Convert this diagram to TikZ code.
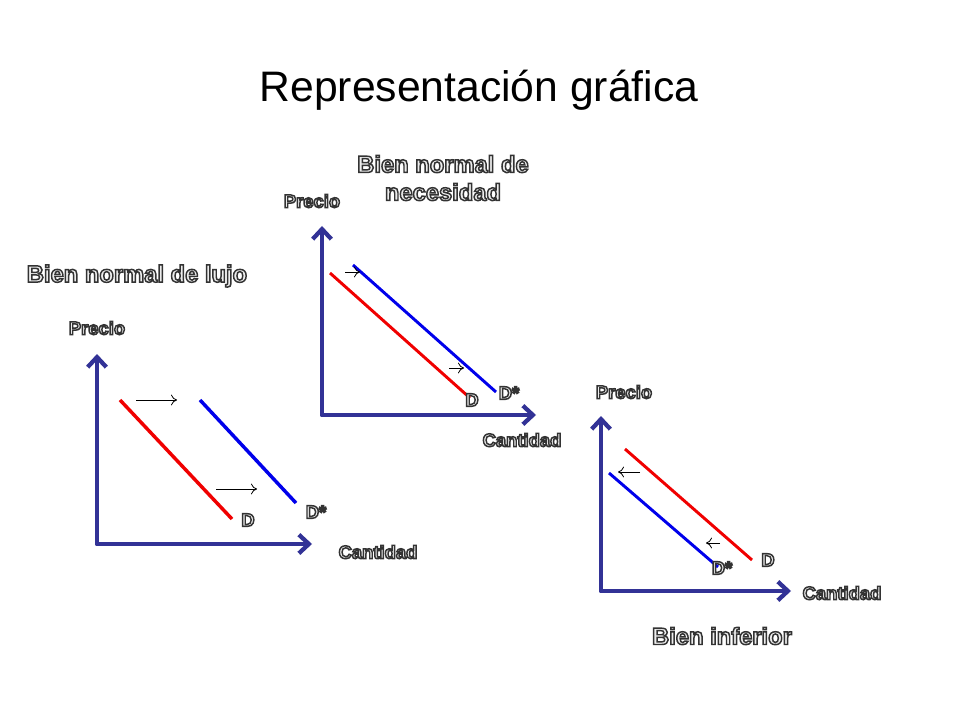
\documentclass[tikz,border=0pt]{standalone}
\usepackage{fontspec}
\setmainfont{Liberation Sans}
\usetikzlibrary{arrows.meta}
\definecolor{axisc}{RGB}{50,50,150}
\definecolor{redc}{RGB}{240,0,0}
\definecolor{bluec}{RGB}{0,0,235}
\newcommand\olt[1]{\special{pdf:literal direct 2 Tr 1.1 w}\special{pdf:bcolor [0.93] [0.2]}#1\special{pdf:ecolor}\special{pdf:literal direct 0 Tr}}
\tikzset{
 axis/.style={draw=axisc, line width=3.7pt, line cap=round, line join=round,
   {Straight Barb[length=7.5pt,width=14pt,line width=3.2pt]}-{Straight Barb[length=7.5pt,width=14pt,line width=3.2pt]}},
 redline/.style={draw=redc, line width=2.6pt},
 blueline/.style={draw=bluec, line width=2.6pt},
 redthin/.style={draw=redc, line width=2.2pt},
 bluethin/.style={draw=bluec, line width=2.2pt},
 shiftarrow/.style={draw=black, line width=0.6pt, -{To[length=4.5pt,width=8pt]}},
 lab/.style={font=\fontsize{13.8pt}{15pt}\selectfont\bfseries, inner sep=0pt},
 ttl/.style={font=\fontsize{17.8pt}{22pt}\selectfont\bfseries, inner sep=0pt, align=center},
}
\begin{document}
\begin{tikzpicture}[x=0.75pt,y=-0.75pt]
\useasboundingbox[fill=white] (0,0) rectangle (960,720);
% title
\node[font=\fontsize{32pt}{36pt}\selectfont, inner sep=0pt] (title) at (479,90) {Representación gráfica};

% ---- chart 1: lujo
\coordinate (o1) at (97,544);
\coordinate (py1) at (97,354);
\coordinate (px1) at (312,544);
\draw[axis] (py1) -- (o1) -- (px1);
\coordinate (r1a) at (120,400); \coordinate (r1b) at (232,519);
\coordinate (b1a) at (200,400); \coordinate (b1b) at (296,503);
\draw[redline] (r1a) -- (r1b);
\draw[blueline] (b1a) -- (b1b);
\coordinate (s1a) at (136,400); \coordinate (s1b) at (177,400);
\coordinate (s1c) at (216,489); \coordinate (s1d) at (257,489);
\draw[shiftarrow] (s1a) -- (s1b);
\draw[shiftarrow] (s1c) -- (s1d);
\node[ttl] (t1) at (137,276) {\olt{Bien normal de lujo}};
\node[lab] (p1) at (97,328) {\olt{Precio}};
\node[lab] (c1) at (378,552) {\olt{Cantidad}};
\node[lab] (d1) at (248,520) {\olt{D}};
\node[lab] (ds1) at (316,512) {\olt{D*}};

% ---- chart 2: necesidad
\coordinate (o2) at (322,415);
\coordinate (py2) at (322,226);
\coordinate (px2) at (536,415);
\draw[axis] (py2) -- (o2) -- (px2);
\coordinate (r2a) at (330,273); \coordinate (r2b) at (470,398);
\coordinate (b2a) at (353,265); \coordinate (b2b) at (496,392);
\draw[redthin] (r2a) -- (r2b);
\draw[bluethin] (b2a) -- (b2b);
\coordinate (s2a) at (345,272); \coordinate (s2b) at (360,272);
\coordinate (s2c) at (449,368); \coordinate (s2d) at (464,368);
\draw[shiftarrow] (s2a) -- (s2b);
\draw[shiftarrow] (s2c) -- (s2d);
\node[ttl] (t2) at (443,178) {\olt{Bien normal de}\\[-1pt]\olt{necesidad}};
\node[lab] (p2) at (312,201) {\olt{Precio}};
\node[lab] (c2) at (522,440) {\olt{Cantidad}};
\node[lab] (d2) at (472,400) {\olt{D}};
\node[lab] (ds2) at (509,393) {\olt{D*}};

% ---- chart 3: inferior
\coordinate (o3) at (601,591);
\coordinate (py3) at (601,416);
\coordinate (px3) at (791,591);
\draw[axis] (py3) -- (o3) -- (px3);
\coordinate (r3a) at (625,449); \coordinate (r3b) at (752,560);
\coordinate (b3a) at (609,473); \coordinate (b3b) at (718,567);
\draw[redthin] (r3a) -- (r3b);
\draw[bluethin] (b3a) -- (b3b);
\coordinate (s3a) at (640,472); \coordinate (s3b) at (618,472);
\coordinate (s3c) at (720,543); \coordinate (s3d) at (706,543);
\draw[shiftarrow] (s3a) -- (s3b);
\draw[shiftarrow] (s3c) -- (s3d);
\node[ttl] (t3) at (722,636) {\olt{Bien inferior}};
\node[lab] (p3) at (624,392) {\olt{Precio}};
\node[lab] (c3) at (842,593) {\olt{Cantidad}};
\node[lab] (d3) at (768,560) {\olt{D}};
\node[lab] (ds3) at (722,568) {\olt{D*}};
\end{tikzpicture}
\end{document}
